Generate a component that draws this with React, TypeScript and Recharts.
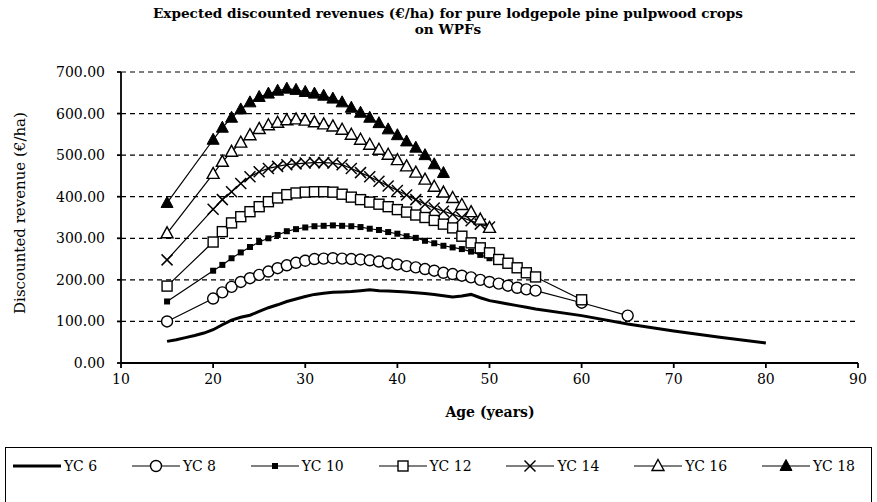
import React from 'react';
import { LineChart, Line, XAxis, YAxis, CartesianGrid } from 'recharts';

const FONT = '"DejaVu Serif", "Liberation Serif", serif';

const title1 = 'Expected discounted revenues (€/ha) for pure lodgepole pine pulpwood crops';
const title2 = 'on WPFs';
const xTitle = 'Age (years)';
const yTitle = 'Discounted revenue (€/ha)';

const xTicks = [10, 20, 30, 40, 50, 60, 70, 80, 90];
const yTicks = [0, 100, 200, 300, 400, 500, 600, 700];

const yc6Ages = [15, 16, 17, 18, 19, 20, 21, 22, 23, 24, 25, 26, 27, 28, 29, 30, 31, 32, 33, 34, 35, 36, 37, 38, 39, 40, 41, 42, 43, 44, 45, 46, 47, 48, 49, 50, 51, 52, 53, 54, 55, 60, 65, 70, 75, 80];
const yc6Values = [52, 56, 61, 66, 72, 80, 92, 103, 110, 115, 124, 133, 140, 148, 154, 160, 165, 168, 170, 171, 172, 174, 176, 174, 173, 172, 171, 169, 167, 165, 162, 159, 161, 165, 157, 150, 146, 142, 138, 134, 130, 114, 94, 77, 62, 48];

const yc8Ages = [15, 20, 21, 22, 23, 24, 25, 26, 27, 28, 29, 30, 31, 32, 33, 34, 35, 36, 37, 38, 39, 40, 41, 42, 43, 44, 45, 46, 47, 48, 49, 50, 51, 52, 53, 54, 55, 60, 65];
const yc8Values = [100, 155, 170, 183, 195, 204, 212, 220, 228, 235, 241, 246, 250, 251, 252, 251, 250, 249, 247, 244, 240, 237, 233, 230, 226, 222, 217, 214, 210, 206, 200, 195, 191, 186, 181, 177, 174, 145, 114];

const yc10Ages = [15, 20, 21, 22, 23, 24, 25, 26, 27, 28, 29, 30, 31, 32, 33, 34, 35, 36, 37, 38, 39, 40, 41, 42, 43, 44, 45, 46, 47, 48, 49, 50];
const yc10Values = [148, 222, 236, 252, 266, 279, 291, 300, 308, 317, 322, 326, 329, 330, 331, 330, 329, 327, 323, 320, 315, 311, 305, 301, 294, 288, 282, 278, 274, 268, 260, 252];

const yc12Ages = [15, 20, 21, 22, 23, 24, 25, 26, 27, 28, 29, 30, 31, 32, 33, 34, 35, 36, 37, 38, 39, 40, 41, 42, 43, 44, 45, 46, 47, 48, 49, 50, 51, 52, 53, 54, 55, 60];
const yc12Values = [185, 291, 316, 337, 352, 364, 376, 388, 397, 405, 409, 411, 412, 412, 411, 406, 399, 393, 387, 382, 376, 369, 363, 356, 350, 343, 334, 325, 305, 289, 277, 265, 249, 240, 229, 217, 207, 152];

const yc14Ages = [15, 20, 21, 22, 23, 24, 25, 26, 27, 28, 29, 30, 31, 32, 33, 34, 35, 36, 37, 38, 39, 40, 41, 42, 43, 44, 45, 46, 47, 48, 49, 50];
const yc14Values = [248, 370, 393, 412, 432, 448, 460, 468, 473, 477, 479, 481, 482, 482, 481, 477, 468, 458, 448, 437, 426, 415, 404, 393, 382, 373, 365, 358, 350, 342, 334, 327];

const yc16Ages = [15, 20, 21, 22, 23, 24, 25, 26, 27, 28, 29, 30, 31, 32, 33, 34, 35, 36, 37, 38, 39, 40, 41, 42, 43, 44, 45, 46, 47, 48, 49, 50];
const yc16Values = [312, 455, 484, 508, 530, 548, 563, 572, 578, 584, 586, 583, 579, 574, 569, 561, 549, 537, 525, 513, 501, 488, 473, 458, 441, 424, 410, 397, 380, 363, 345, 325];

const yc18Ages = [15, 20, 21, 22, 23, 24, 25, 26, 27, 28, 29, 30, 31, 32, 33, 34, 35, 36, 37, 38, 39, 40, 41, 42, 43, 44, 45];
const yc18Values = [385, 537, 566, 590, 610, 627, 640, 648, 655, 660, 657, 652, 648, 643, 636, 627, 614, 602, 590, 577, 562, 548, 533, 518, 500, 478, 457];

type Kind = 'none' | 'circle' | 'fsquare' | 'osquare' | 'x' | 'otri' | 'ftri';

const toRows = (ages: number[], values: number[]) => ages.map((age, i) => ({ age, value: values[i] }));

const series: { name: string; kind: Kind; data: { age: number; value: number }[] }[] = [
  { name: 'YC 6', kind: 'none', data: toRows(yc6Ages, yc6Values) },
  { name: 'YC 8', kind: 'circle', data: toRows(yc8Ages, yc8Values) },
  { name: 'YC 10', kind: 'fsquare', data: toRows(yc10Ages, yc10Values) },
  { name: 'YC 12', kind: 'osquare', data: toRows(yc12Ages, yc12Values) },
  { name: 'YC 14', kind: 'x', data: toRows(yc14Ages, yc14Values) },
  { name: 'YC 16', kind: 'otri', data: toRows(yc16Ages, yc16Values) },
  { name: 'YC 18', kind: 'ftri', data: toRows(yc18Ages, yc18Values) },
];

function markerShape(kind: Kind, cx: number, cy: number, key?: string) {
  switch (kind) {
    case 'circle':
      return <circle key={key} cx={cx} cy={cy} r={5.5} fill="#fff" stroke="#000" strokeWidth={1.4} />;
    case 'fsquare':
      return <rect key={key} x={cx - 3} y={cy - 3} width={6} height={6} fill="#000" />;
    case 'osquare':
      return <rect key={key} x={cx - 5} y={cy - 5} width={10} height={10} fill="#fff" stroke="#000" strokeWidth={1.4} />;
    case 'x':
      return (
        <g key={key} stroke="#000" strokeWidth={1.5}>
          <line x1={cx - 5.5} y1={cy - 5.5} x2={cx + 5.5} y2={cy + 5.5} />
          <line x1={cx - 5.5} y1={cy + 5.5} x2={cx + 5.5} y2={cy - 5.5} />
        </g>
      );
    case 'otri':
      return <polygon key={key} points={`${cx},${cy - 6.5} ${cx + 6},${cy + 4.5} ${cx - 6},${cy + 4.5}`} fill="#fff" stroke="#000" strokeWidth={1.4} />;
    case 'ftri':
      return <polygon key={key} points={`${cx},${cy - 6.5} ${cx + 6},${cy + 4.5} ${cx - 6},${cy + 4.5}`} fill="#000" stroke="#000" strokeWidth={1} />;
    default:
      return <g key={key} />;
  }
}

const fmt = (v: number) => v.toFixed(2);

export default function App() {
  return (
    <div style={{ position: 'absolute', left: 0, top: 0, width: 877, height: 502, overflow: 'hidden', background: '#fff', fontFamily: FONT, color: '#000' }}>
      <div style={{ position: 'absolute', left: 0, top: 5, width: 896, textAlign: 'center', fontWeight: 'bold', fontSize: 13.6, lineHeight: '16px' }}>
        <div>{title1}</div>
        <div>{title2}</div>
      </div>
      <div
        style={{ position: 'absolute', left: 20, top: 213, transform: 'translate(-50%, -50%) rotate(-90deg)', whiteSpace: 'nowrap', fontSize: 15 }}
      >
        {yTitle}
      </div>
      <div style={{ position: 'absolute', left: 490, top: 412, transform: 'translate(-50%, -50%)', whiteSpace: 'nowrap', fontSize: 14, fontWeight: 'bold' }}>
        {xTitle}
      </div>
      <div style={{ position: 'absolute', left: 0, top: 0 }}>
        <LineChart width={877} height={445} margin={{ top: 72, right: 19, bottom: 22, left: 0 }}>
          <CartesianGrid vertical={false} stroke="#000" strokeDasharray="5 4" strokeWidth={1.2} />
          <XAxis
            type="number"
            dataKey="age"
            domain={[10, 90]}
            ticks={xTicks}
            allowDataOverflow
            height={60}
            stroke="#000"
            strokeWidth={1.8}
            tickSize={5}
            tickMargin={6}
            tick={{ fill: '#000', fontSize: 14, fontFamily: FONT }}
          />
          <YAxis
            type="number"
            domain={[0, 700]}
            ticks={yTicks}
            width={121}
            stroke="#000"
            strokeWidth={1.8}
            tickSize={4}
            tickMargin={12}
            tickFormatter={fmt}
            tick={{ fill: '#000', fontSize: 14, fontFamily: FONT }}
          />
          {series.map((s) => (
            <Line
              key={s.name}
              data={s.data}
              dataKey="value"
              name={s.name}
              type="linear"
              stroke="#000"
              strokeWidth={s.kind === 'none' ? 3 : 1.2}
              isAnimationActive={false}
              dot={s.kind === 'none' ? false : (p: any) => markerShape(s.kind, p.cx, p.cy, `${s.name}-${p.index}`)}
              activeDot={false}
            />
          ))}
        </LineChart>
      </div>
      <div style={{ position: 'absolute', left: 5, top: 447, width: 867, height: 80, border: '1.5px solid #000', boxSizing: 'border-box' }}>
        <div style={{ display: 'flex', justifyContent: 'space-between', padding: '10px 16px 0 6px', fontSize: 14 }}>
          {series.map((s) => (
            <div key={s.name} style={{ display: 'flex', alignItems: 'center' }}>
              <svg width={50} height={16}>
                <line x1={1} y1={8} x2={49} y2={8} stroke="#000" strokeWidth={s.kind === 'none' ? 3 : 1.2} />
                {markerShape(s.kind, 25, 8)}
              </svg>
              <span style={{ marginLeft: 2 }}>{s.name}</span>
            </div>
          ))}
        </div>
      </div>
    </div>
  );
}
